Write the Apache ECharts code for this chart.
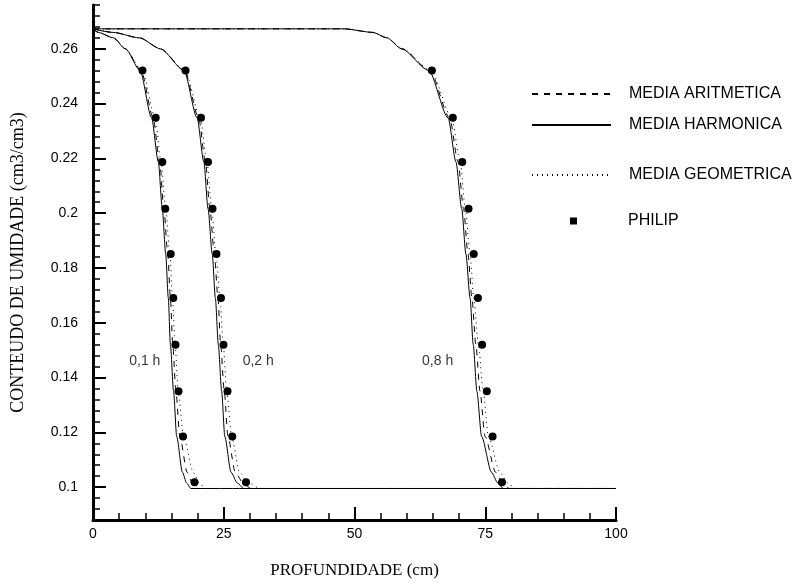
<!DOCTYPE html>
<html>
<head>
<meta charset="utf-8">
<script src="https://cdn.jsdelivr.net/npm/echarts@6/dist/echarts.min.js"></script>
<style>
html,body{margin:0;padding:0;background:#fff;}
#chart{width:807px;height:584px;}
</style>
</head>
<body>
<div id="chart"></div>
<script>
// niveis de umidade (cm3/cm3) usados nas curvas
var thetaLevels = [0.2673, 0.266, 0.264, 0.26, 0.2521, 0.2348, 0.2187, 0.2016, 0.1851, 0.169, 0.152, 0.135, 0.1185, 0.1054, 0.1015, 0.0995];
var thetaInicial = 0.0995;
var profMax = 100;

// profundidades (cm) de cada curva, uma por nivel
var harm01 = [0, 1.0, 3.9, 6.2, 9.0, 11.2, 12.5, 13.25, 13.9, 14.4, 14.8, 15.4, 16.0, 17.1, 17.9, 18.7];
var arit01 = [0, 1.0, 3.9, 6.2, 9.2, 11.5, 12.75, 13.55, 14.3, 14.8, 15.25, 15.85, 16.6, 18.0, 19.0, 20.0];
var geom01 = [0, 1.0, 3.9, 6.2, 9.4, 11.9, 13.0, 13.9, 14.7, 15.2, 15.7, 16.3, 17.3, 19.2, 20.3, 21.5];

var harm02 = [0, 3.8, 8.9, 12.9, 17.4, 19.9, 21.2, 22.0, 22.8, 23.4, 23.96, 24.6, 25.2, 26.4, 27.6, 28.8];
var arit02 = [0, 3.8, 8.9, 12.9, 17.5, 20.2, 21.5, 22.35, 23.2, 23.9, 24.4, 25.1, 25.8, 27.2, 28.7, 30.2];
var geom02 = [0, 3.8, 8.9, 12.9, 17.6, 20.5, 21.8, 22.7, 23.5, 24.3, 24.9, 25.56, 26.5, 28.0, 29.8, 31.9];

var harm08 = [48, 53.5, 56.2, 59.0, 64.2, 67.9, 69.4, 70.5, 71.3, 72.1, 72.7, 73.4, 74.3, 76.2, 77.4, 78.4];
var arit08 = [48, 53.5, 56.2, 59.1, 64.4, 68.2, 69.8, 70.85, 71.7, 72.45, 73.2, 74.0, 74.95, 77.0, 78.4, 79.6];
var geom08 = [48, 53.5, 56.2, 59.2, 64.6, 68.6, 70.2, 71.2, 72.1, 72.8, 73.7, 74.6, 75.6, 77.8, 79.3, 80.7];

// solucao de Philip
var philipTheta = [0.2521, 0.2348, 0.2187, 0.2016, 0.1851, 0.169, 0.152, 0.135, 0.1185, 0.1018];
var philip01 = [9.46, 11.99, 13.25, 13.82, 14.86, 15.35, 15.77, 16.35, 17.21, 19.41];
var philip02 = [17.69, 20.65, 21.99, 22.85, 23.61, 24.47, 24.95, 25.72, 26.63, 29.25];
var philip08 = [64.8, 68.8, 70.6, 71.8, 72.8, 73.6, 74.4, 75.3, 76.4, 78.2];

// rotulos dos tempos
var tempoNomes = ['0,1 h', '0,2 h', '0,8 h'];
var tempoProf = [9.9, 31.6, 65.9];
var tempoTheta = [0.146, 0.146, 0.146];

// eixos
var yMajor = [0.1, 0.12, 0.14, 0.16, 0.18, 0.2, 0.22, 0.24, 0.26];
var yMin = 0.088, yMax = 0.276;

function montaCurva(prof) {
	var d = [];
	if (prof[0] > 0) d.push([0, thetaLevels[0]]);
	for (var i = 0; i < prof.length; i++) {
		d.push([prof[i], thetaLevels[i]]);
	}
	d.push([profMax, thetaInicial]);
	return d;
}

function montaPhilip() {
	var d = [];
	var todos = [philip01, philip02, philip08];
	for (var k = 0; k < todos.length; k++) {
		for (var i = 0; i < philipTheta.length; i++) {
			d.push([todos[k][i], philipTheta[i]]);
		}
	}
	return d;
}

var estilos = {
	'MEDIA ARITMETICA': [6, 6],
	'MEDIA HARMONICA': 'solid',
	'MEDIA GEOMETRICA': [1, 4]
};

function serieLinha(nome, prof) {
	return {
		name: nome,
		type: 'line',
		data: montaCurva(prof),
		showSymbol: false,
		symbol: 'none',
		smooth: 0.25,
		smoothMonotone: 'x',
		silent: true,
		z: 3,
		lineStyle: { color: '#000', width: 1, type: estilos[nome] },
		itemStyle: { color: '#000' }
	};
}

var series = [
	serieLinha('MEDIA ARITMETICA', arit01),
	serieLinha('MEDIA ARITMETICA', arit02),
	serieLinha('MEDIA ARITMETICA', arit08),
	serieLinha('MEDIA HARMONICA', harm01),
	serieLinha('MEDIA HARMONICA', harm02),
	serieLinha('MEDIA HARMONICA', harm08),
	serieLinha('MEDIA GEOMETRICA', geom01),
	serieLinha('MEDIA GEOMETRICA', geom02),
	serieLinha('MEDIA GEOMETRICA', geom08),
	{
		name: 'PHILIP',
		type: 'scatter',
		data: montaPhilip(),
		symbol: 'circle',
		symbolSize: 8,
		z: 4,
		itemStyle: { color: '#000', opacity: 1 }
	},
	{
		name: 'tempos',
		type: 'scatter',
		symbolSize: 0,
		data: tempoNomes.map(function (n, i) { return { name: n, value: [tempoProf[i], tempoTheta[i]] }; }),
		label: {
			show: true,
			position: 'inside',
			formatter: '{b}',
			color: '#000',
			fontSize: 14,
			fontFamily: 'Liberation Sans'
		}
	}
];

function legenda(nome, top, left, w, h, pad, icone) {
	var l = {
		data: [nome],
		left: left,
		top: top,
		padding: 0,
		itemWidth: w,
		itemHeight: h,
		selectedMode: false,
		textStyle: { fontSize: 16, color: '#000', fontFamily: 'Liberation Sans', padding: [0, 0, 0, pad] }
	};
	if (icone) {
		l.icon = icone;
		l.itemStyle = { color: '#000', opacity: 1 };
	} else {
		// so a linha, sem o simbolo
		l.itemStyle = { opacity: 0 };
	}
	return l;
}

var myChart = echarts.init(document.getElementById('chart'));
var option = {
	backgroundColor: '#fff',
	animation: false,
	grid: { left: 93, right: 191, top: 5, bottom: 63 },
	legend: [
		legenda('MEDIA ARITMETICA', 86, 531, 79, 14, 13),
		legenda('MEDIA HARMONICA', 117, 531, 79, 14, 13),
		legenda('MEDIA GEOMETRICA', 167, 531, 79, 14, 13),
		legenda('PHILIP', 213, 570, 7, 7, 46, 'rect')
	],
	xAxis: {
		type: 'value',
		min: 0,
		max: 100,
		interval: 25,
		name: 'PROFUNDIDADE (cm)',
		nameLocation: 'middle',
		nameGap: 42,
		nameTextStyle: { fontSize: 17, color: '#000', fontFamily: 'Liberation Serif' },
		axisLine: { show: true, lineStyle: { color: '#000', width: 3 } },
		axisTick: { show: true, inside: true, length: 13, lineStyle: { color: '#000', width: 2 } },
		minorTick: { show: true, splitNumber: 5, length: 7, lineStyle: { color: '#000', width: 1.5 } },
		axisLabel: { color: '#000', fontSize: 14, fontFamily: 'Liberation Sans', margin: 7 },
		splitLine: { show: false }
	},
	yAxis: [
		{
			type: 'value',
			min: yMin,
			max: yMax,
			interval: 0.004,
			name: 'CONTEUDO DE UMIDADE (cm3/cm3)',
			nameLocation: 'middle',
			nameGap: 66,
			nameTextStyle: { fontSize: 18, color: '#000', fontFamily: 'Liberation Serif' },
			axisLine: { show: true, lineStyle: { color: '#000', width: 3 } },
			axisTick: { show: true, inside: true, length: 7, lineStyle: { color: '#000', width: 1.5 } },
			axisLabel: {
				color: '#000', fontSize: 14, fontFamily: 'Liberation Sans', margin: 15,
				customValues: yMajor
			},
			splitLine: { show: false }
		},
		{
			type: 'value',
			min: yMin,
			max: yMax,
			position: 'left',
			axisLine: { show: false },
			axisTick: { show: true, inside: true, length: 13, customValues: yMajor, lineStyle: { color: '#000', width: 2 } },
			axisLabel: { show: false },
			splitLine: { show: false }
		}
	],
	series: series
};
myChart.setOption(option);
</script>
</body>
</html>
